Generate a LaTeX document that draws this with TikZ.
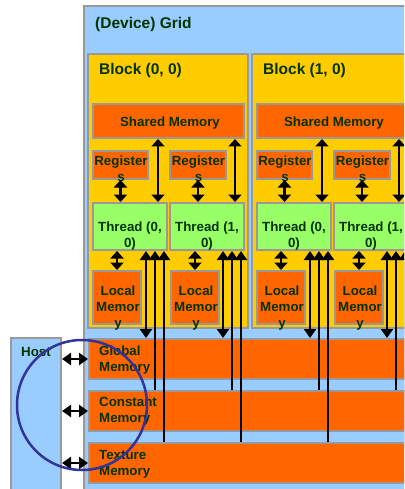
\documentclass[tikz,border=0pt]{standalone}
\usepackage{fontspec}
\setmainfont{Liberation Sans}
\usetikzlibrary{arrows.meta,calc}
\definecolor{gridblue}{HTML}{99CCFF}
\definecolor{bordergray}{HTML}{999999}
\definecolor{blockyellow}{HTML}{FFCC00}
\definecolor{memorange}{HTML}{FF6600}
\definecolor{threadgreen}{HTML}{99FF66}
\definecolor{textgreen}{HTML}{003300}
\definecolor{circblue}{HTML}{333399}
\begin{document}
\begin{tikzpicture}[x=1pt,y=-1pt,
  box/.style={draw=bordergray, line width=2pt, rectangle, inner sep=0pt, anchor=north west},
  gridbox/.style={box, fill=gridblue},
  blockbox/.style={box, fill=blockyellow},
  membox/.style={box, fill=memorange},
  thrbox/.style={box, fill=threadgreen},
  lbl/.style={text=textgreen, font=\fontsize{13.3}{16}\selectfont\bfseries, align=center, inner sep=0pt},
  hdr/.style={text=textgreen, font=\fontsize{15.5}{18}\selectfont\bfseries, inner sep=0pt, anchor=west},
  bigtip/.tip={Triangle[width=13pt,length=7.5pt]},
  midtip/.tip={Triangle[width=12pt,length=9pt]},
  hosttip/.tip={Triangle[width=12pt,length=9pt]},
  dbl/.style={line width=2.4pt, bigtip-bigtip},
  gdbl/.style={line width=2.4pt, midtip-midtip},
  sgl/.style={line width=2.4pt, -midtip},
  hdbl/.style={line width=2.4pt, hosttip-hosttip},
  focusring/.style={circle, draw=circblue, line width=2.5pt, minimum size=130pt, inner sep=0pt}
]
\useasboundingbox (0,0) rectangle (404,489);
\clip (0,0) rectangle (404,489);
\fill[white] (0,0) rectangle (404,489);

\node[gridbox, minimum width=340pt, minimum height=500pt] (grid) at (83,5) {};
\node[gridbox, minimum width=50pt, minimum height=170pt] (host) at (10,337) {};
\node[hdr] (gridlbl) at (95,24) {(Device) Grid};
\node[lbl] (hostlbl) at (36,352) {Host};

\foreach \bk/\dx in {0/0,1/164}{
  \node[blockbox, minimum width=160pt, minimum height=274pt] (blk\bk) at (87+\dx,53) {};
  \node[hdr] (blklbl\bk) at (99+\dx,70) {Block (\bk, 0)};
  \node[membox, minimum width=151pt, minimum height=34pt] (sm\bk) at (92+\dx,103) {};
  \node[lbl] (smlbl\bk) at ($(sm\bk.center)+(1.5,2)$) {Shared Memory};
  \node[membox, minimum width=55pt, minimum height=28pt] (rega\bk) at (92+\dx,150) {};
  \node[membox, minimum width=56pt, minimum height=28pt] (regb\bk) at (169+\dx,150) {};
  \node[lbl] (regalbl\bk) at ($(rega\bk.center)+(0.5,4)$) {Register\\s};
  \node[lbl] (regblbl\bk) at ($(regb\bk.center)+(0.5,4)$) {Register\\s};
  \node[thrbox, minimum width=74pt, minimum height=47pt] (tha\bk) at (92+\dx,202) {};
  \node[thrbox, minimum width=74pt, minimum height=47pt] (thb\bk) at (169+\dx,202) {};
  \node[lbl] (thalbl\bk) at ($(tha\bk.center)+(0,9.5)$) {Thread (0,\\0)};
  \node[lbl] (thblbl\bk) at ($(thb\bk.center)+(0,9.5)$) {Thread (1,\\0)};
  \node[membox, minimum width=48pt, minimum height=53pt] (loca\bk) at (92+\dx,270) {};
  \node[membox, minimum width=48pt, minimum height=53pt] (locb\bk) at (170+\dx,270) {};
  \node[lbl] (localbl\bk) at ($(loca\bk.center)+(1,10.5)$) {Local\\Memor\\y};
  \node[lbl] (locblbl\bk) at ($(locb\bk.center)+(1,10.5)$) {Local\\Memor\\y};
}

\node[membox, minimum width=340pt, minimum height=40pt] (glob) at (88,338) {};
\node[membox, minimum width=340pt, minimum height=40pt] (const) at (88,390) {};
\node[membox, minimum width=340pt, minimum height=40pt] (tex) at (88,442) {};
\node[lbl, align=left, anchor=west] (globlbl) at (99,360) {Global\\Memory};
\node[lbl, align=left, anchor=west] (constlbl) at (99,411) {Constant\\Memory};
\node[lbl, align=left, anchor=west] (texlbl) at (99,464) {Texture\\Memory};

\foreach \bk in {0,1}{
  \foreach \tk in {a,b}{
    \draw[dbl] (reg\tk\bk.south) -- (reg\tk\bk.south |- th\tk\bk.north);
    \coordinate (s\tk\bk) at ([xshift=-10pt]th\tk\bk.north east);
    \draw[dbl] (s\tk\bk) -- (s\tk\bk |- sm\bk.south);
    \draw[dbl] (loc\tk\bk.north) -- (loc\tk\bk.north |- th\tk\bk.south);
    \coordinate (g\tk\bk) at ([xshift=-22pt]th\tk\bk.south east);
    \coordinate (c\tk\bk) at ([xshift=-13pt]th\tk\bk.south east);
    \coordinate (x\tk\bk) at ([xshift=-4pt]th\tk\bk.south east);
    \draw[gdbl] (g\tk\bk) -- (g\tk\bk |- glob.north);
    \draw[sgl] (c\tk\bk |- const.north) -- (c\tk\bk);
    \draw[sgl] (x\tk\bk |- tex.north) -- (x\tk\bk);
  }
}

\foreach \m in {glob,const,tex}{
  \draw[hdbl] (\m.west -| host.east) -- (\m.west);
}

\node[focusring] (focus) at (82,405) {};
\end{tikzpicture}
\end{document}
